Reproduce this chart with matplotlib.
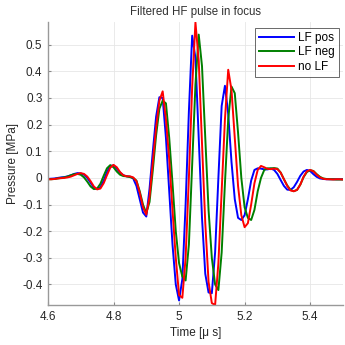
import numpy as np
import matplotlib
matplotlib.use('Agg')
import matplotlib.pyplot as plt

plt.rcParams['font.family'] = ['Liberation Sans', 'DejaVu Sans']

# time axis [us], one sample every 0.01 us
time_us = np.round(np.linspace(4.60, 5.50, 91), 2)

lf_pos = [
    -0.004, -0.003, -0.002, 0.000, 0.002, 0.003, 0.006, 0.010, 0.015, 0.018,
    0.017, 0.012, 0.000, -0.018, -0.036, -0.042, -0.035, -0.010, 0.022, 0.045,
    0.047, 0.035, 0.020, 0.010, 0.006, 0.005, -0.002, -0.030, -0.080, -0.130,
    -0.145, -0.040, 0.100, 0.230, 0.303, 0.300, 0.150, -0.050, -0.250, -0.400,
    -0.460, -0.380, -0.100, 0.250, 0.534, 0.450, 0.150, -0.150, -0.360, -0.430,
    -0.433, -0.280, 0.000, 0.270, 0.346, 0.240, 0.060, -0.080, -0.150, -0.158,
    -0.140, -0.080, -0.010, 0.030, 0.036, 0.035, 0.032, 0.032, 0.035, 0.030,
    0.015, -0.008, -0.030, -0.044, -0.045, -0.035, -0.015, 0.008, 0.024, 0.030,
    0.026, 0.014, 0.004, -0.002, -0.004, -0.005, -0.005, -0.005, -0.005, -0.005,
    -0.005,
]

lf_neg = [
    -0.005, -0.005, -0.004, -0.002, 0.000, 0.002, 0.005, 0.010, 0.014, 0.015,
    0.012, 0.002, -0.014, -0.032, -0.042, -0.040, -0.022, 0.008, 0.036, 0.048,
    0.040, 0.024, 0.012, 0.007, 0.006, 0.003, 0.000, -0.010, -0.050, -0.100,
    -0.132, -0.090, 0.030, 0.160, 0.260, 0.290, 0.280, 0.150, -0.020, -0.200,
    -0.320, -0.370, -0.385, -0.250, 0.050, 0.350, 0.538, 0.420, 0.150, -0.120,
    -0.300, -0.400, -0.421, -0.280, -0.020, 0.220, 0.343, 0.318, 0.170, 0.000,
    -0.110, -0.150, -0.158, -0.120, -0.050, 0.000, 0.030, 0.036, 0.036, 0.037,
    0.035, 0.020, -0.005, -0.028, -0.045, -0.050, -0.045, -0.025, 0.003, 0.022,
    0.029, 0.026, 0.014, 0.004, -0.002, -0.004, -0.005, -0.005, -0.006, -0.006,
    -0.006,
]

no_lf = [
    -0.005, -0.005, -0.004, -0.002, -0.001, 0.000, 0.002, 0.005, 0.010, 0.015,
    0.018, 0.015, 0.005, -0.012, -0.032, -0.043, -0.040, -0.020, 0.010, 0.038,
    0.049, 0.040, 0.022, 0.010, 0.006, 0.006, 0.002, -0.012, -0.055, -0.110,
    -0.138, -0.070, 0.060, 0.190, 0.290, 0.325, 0.220, 0.070, -0.120, -0.300,
    -0.440, -0.450, -0.300, 0.000, 0.340, 0.584, 0.440, 0.130, -0.170, -0.390,
    -0.470, -0.477, -0.320, -0.050, 0.220, 0.406, 0.330, 0.150, -0.030, -0.140,
    -0.185, -0.170, -0.100, -0.020, 0.030, 0.045, 0.040, 0.034, 0.033, 0.035,
    0.033, 0.020, -0.005, -0.030, -0.047, -0.050, -0.045, -0.025, 0.005, 0.025,
    0.030, 0.025, 0.012, 0.002, -0.003, -0.005, -0.005, -0.006, -0.005, -0.005,
    -0.006,
]

x_ticks = [4.6, 4.8, 5.0, 5.2, 5.4]
x_tick_labels = ['4.6', '4.8', '5', '5.2', '5.4']
y_ticks = [-0.4, -0.3, -0.2, -0.1, 0, 0.1, 0.2, 0.3, 0.4, 0.5]
y_tick_labels = ['-0.4', '-0.3', '-0.2', '-0.1', '0', '0.1', '0.2', '0.3', '0.4', '0.5']

fig = plt.figure(figsize=(3.45, 3.45), dpi=100)
ax = fig.add_axes([0.139, 0.116, 0.855, 0.820])

ax.plot(time_us, lf_pos, color='#0000ff', lw=1.4, label='LF pos')
ax.plot(time_us, lf_neg, color='#008000', lw=1.4, label='LF neg')
ax.plot(time_us, no_lf, color='#ff0000', lw=1.4, label='no LF')

ax.set_xlim(4.6, 5.5)
ax.set_ylim(-0.477, 0.585)
ax.set_xticks(x_ticks)
ax.set_xticklabels(x_tick_labels)
ax.set_yticks(y_ticks)
ax.set_yticklabels(y_tick_labels)
ax.tick_params(labelsize=8.5, direction='in', length=2, color='#888888', labelcolor='#262626', pad=4)
ax.grid(True, color='#e6e6e6', lw=0.6)
ax.set_axisbelow(True)
for s in ['top', 'right']:
    ax.spines[s].set_visible(False)
for s in ['left', 'bottom']:
    ax.spines[s].set_color('#999999')
    ax.spines[s].set_linewidth(1.0)

ax.set_title('Filtered HF pulse in focus', fontsize=8.3, color='#303030', pad=5)
ax.set_xlabel('Time [μ s]', fontsize=8.5, color='#262626', labelpad=3)
ax.set_ylabel('Pressure [MPa]', fontsize=8.5, color='#262626', labelpad=2)

leg = ax.legend(loc='upper right', fontsize=8.5, handlelength=3.0, borderpad=0.35,
                labelspacing=0.2, handletextpad=0.3, fancybox=False,
                bbox_to_anchor=(1.005, 1.0))
leg.get_frame().set_edgecolor('#262626')
leg.get_frame().set_linewidth(0.6)

fig.savefig('out.png', dpi=100)
